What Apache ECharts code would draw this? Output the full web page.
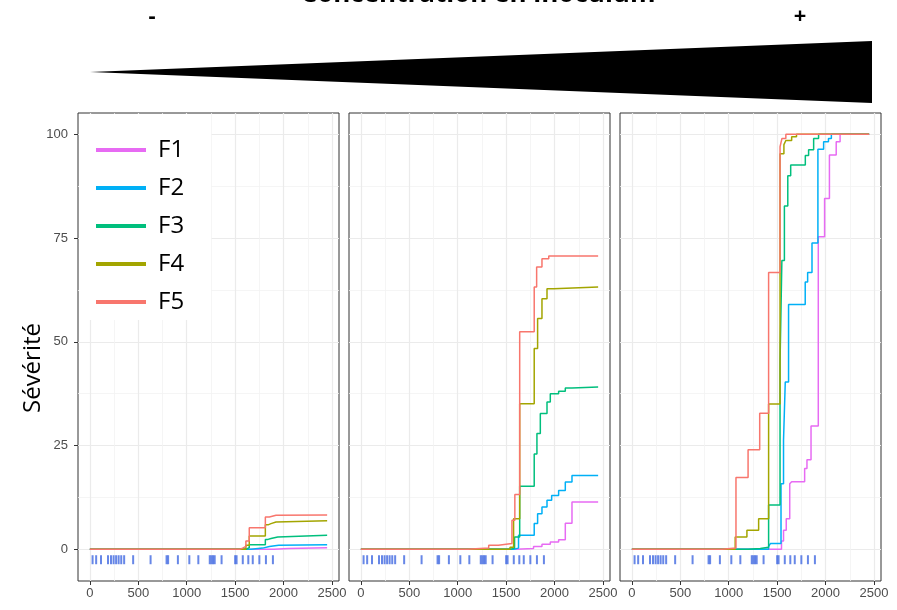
<!DOCTYPE html>
<html>
<head>
<meta charset="utf-8">
<script src="https://cdn.jsdelivr.net/npm/echarts@6/dist/echarts.min.js"></script>
<style>
  html, body { margin: 0; padding: 0; background: #fff; }
  #chart { width: 897px; height: 610px; }
</style>
</head>
<body>
<div id="chart"></div>
<script>
const factors = ['F1', 'F2', 'F3', 'F4', 'F5']
const factorColors = ['#E76BF3', '#00B0F6', '#00BF7D', '#A3A500', '#F8766D']
const xTicks = [0, 500, 1000, 1500, 2000, 2500]
const xMinorTicks = [250, 750, 1250, 1750, 2250]
const yTicks = [0, 25, 50, 75, 100]
const yMinorTicks = [12.5, 37.5, 62.5, 87.5]

// dates of the rug marks under the curves
const rugDates = [28, 65, 115, 187, 218, 245, 271, 297, 324, 354, 447, 627, 792, 808, 909,
  1027, 1120, 1238, 1255, 1272, 1289, 1360, 1500, 1515, 1579, 1636, 1682, 1750, 1818, 1890]
const rugLevel = -2.5

// [date, severity] : severity reached at that date (step lines)
// panel 1 : low level
const lowF1 = [[0, 0], [1900, 0.2], [2050, 0.4], [2450, 0.4]]
const lowF2 = [[0, 0], [1663, 0.3], [1784, 0.7], [1853, 1.0], [1950, 1.1], [2450, 1.1]]
const lowF3 = [[0, 0], [1611, 0.4], [1646, 1.1], [1812, 2.4], [1840, 2.6], [1870, 3.0], [1940, 3.4], [2450, 3.4]]
const lowF4 = [[0, 0], [1611, 1.0], [1646, 3.2], [1812, 5.9], [1840, 6.2], [1870, 6.6], [1922, 6.9], [2450, 6.9]]
const lowF5 = [[0, 0], [1545, 0.3], [1577, 0.7], [1611, 2.0], [1646, 5.2], [1812, 7.8], [1853, 8.2], [1922, 8.3], [2450, 8.3]]

// panel 2 : medium level
const midF1 = [[0, 0], [1600, 0.2], [1783, 0.7], [1870, 1.2], [1956, 1.8], [2042, 2.3], [2111, 6.3], [2180, 11.4], [2450, 11.4]]
const midF2 = [[0, 0], [1577, 0.3], [1628, 3.4], [1790, 6.2], [1825, 8.6], [1870, 10.2], [1922, 11.8], [1970, 13.0],
  [2042, 14.2], [2111, 16.2], [2180, 17.8], [2450, 17.8]]
const midF3 = [[0, 0], [1542, 0.3], [1587, 3.0], [1640, 15.2], [1790, 23.0], [1818, 27.9], [1853, 32.7], [1922, 35.5],
  [1956, 37.5], [2042, 38.1], [2111, 38.9], [2180, 39.1], [2450, 39.1]]
const midF4 = [[0, 0], [1540, 0.5], [1577, 7.4], [1640, 35.1], [1790, 48.4], [1825, 55.6], [1870, 60.4], [1922, 62.8],
  [1990, 63.2], [2450, 63.2]]
const midF5 = [[0, 0], [1100, 0.3], [1320, 1.0], [1420, 1.4], [1560, 7.0], [1590, 13.2], [1640, 52.4], [1790, 63.2],
  [1815, 68.0], [1870, 70.0], [1940, 70.7], [2450, 70.7]]

// panel 3 : high level
const highF1 = [[0, 0], [1545, 2.0], [1566, 4.6], [1594, 7.4], [1630, 15.8], [1650, 16.3], [1784, 19.5], [1808, 21.6],
  [1850, 29.7], [1925, 75.3], [1990, 84.5], [2040, 95.0], [2110, 98.2], [2150, 100], [2450, 100]]
const highF2 = [[0, 0], [1412, 0.7], [1430, 1.4], [1540, 15.8], [1566, 26.3], [1584, 40.3], [1618, 59.0], [1790, 64.4],
  [1815, 66.7], [1860, 73.8], [1921, 96.4], [1980, 98.2], [2030, 99.0], [2060, 100], [2450, 100]]
const highF3 = [[0, 0], [1200, 0.2], [1326, 0.5], [1412, 10.7], [1530, 45.0], [1549, 69.6], [1575, 82.7], [1610, 90.0],
  [1640, 92.6], [1791, 94.9], [1825, 96.3], [1877, 99.0], [1928, 100], [2450, 100]]
const highF4 = [[0, 0], [1067, 3.0], [1188, 4.6], [1309, 7.4], [1412, 35.0], [1530, 95.3], [1570, 97.5], [1590, 98.5],
  [1650, 99.4], [1700, 100], [2450, 100]]
const highF5 = [[0, 0], [930, 0.3], [1075, 17.3], [1200, 24.0], [1320, 32.8], [1412, 66.7], [1530, 97.0], [1550, 99.0],
  [1590, 100], [2450, 100]]

const panels = [
  [lowF1, lowF2, lowF3, lowF4, lowF5],
  [midF1, midF2, midF3, midF4, midF5],
  [highF1, highF2, highF3, highF4, highF5]
]

const chart = echarts.init(document.getElementById('chart'))

const panelLefts = [78, 349, 620]
const xRange = [-122.5, 2572.5]
const yRange = [-7.625, 105.125]
const labelStyle = { color: '#4D4D4D', fontSize: 13, fontFamily: 'Liberation Sans', formatter: v => String(v) }

const grids = []
const xAxes = []
const yAxes = []
const series = []

panelLefts.forEach((left, p) => {
  grids.push({
    left: left, top: 113, width: 261, height: 468,
    show: true, borderColor: '#333', borderWidth: 1, backgroundColor: '#fff'
  })
  // major axis
  xAxes.push({
    gridIndex: p, type: 'value', min: xRange[0], max: xRange[1], position: 'bottom',
    axisLine: { show: false, onZero: false },
    axisTick: { show: true, length: 4, lineStyle: { color: '#333' }, customValues: xTicks },
    axisLabel: { ...labelStyle, margin: 6, customValues: xTicks },
    splitLine: { show: true, lineStyle: { color: '#EBEBEB', width: 1.2 } }
  })
  // minor grid
  xAxes.push({
    gridIndex: p, type: 'value', min: xRange[0], max: xRange[1], position: 'top',
    axisLine: { show: false, onZero: false },
    axisTick: { show: false, customValues: xMinorTicks },
    axisLabel: { show: false },
    splitLine: { show: true, lineStyle: { color: '#F3F3F3', width: 0.8 } }
  })
  yAxes.push({
    gridIndex: p, type: 'value', min: yRange[0], max: yRange[1], position: 'left',
    axisLine: { show: false, onZero: false },
    axisTick: { show: p === 0, length: 4, lineStyle: { color: '#333' }, customValues: yTicks },
    axisLabel: { ...labelStyle, show: p === 0, margin: 10, customValues: yTicks },
    splitLine: { show: true, lineStyle: { color: '#EBEBEB', width: 1.2 } }
  })
  yAxes.push({
    gridIndex: p, type: 'value', min: yRange[0], max: yRange[1], position: 'right',
    axisLine: { show: false, onZero: false },
    axisTick: { show: false, customValues: yMinorTicks },
    axisLabel: { show: false },
    splitLine: { show: true, lineStyle: { color: '#F3F3F3', width: 0.8 } }
  })

  series.push({
    name: 'rug', type: 'scatter', xAxisIndex: 2 * p, yAxisIndex: 2 * p,
    data: rugDates.map(d => [d, rugLevel]),
    symbol: 'rect', symbolSize: [2, 9],
    itemStyle: { color: '#4169E1' },
    silent: true, z: 2
  })
  panels[p].forEach((points, f) => {
    series.push({
      name: factors[f], type: 'line', xAxisIndex: 2 * p, yAxisIndex: 2 * p,
      data: points, step: 'end', symbol: 'none',
      color: factorColors[f],
      lineStyle: { width: 1.5, color: factorColors[f] },
      z: 3 + f
    })
  })
})

const option = {
  animation: false,
  backgroundColor: '#fff',
  grid: grids,
  xAxis: xAxes,
  yAxis: yAxes,
  legend: {
    data: factors,
    orient: 'vertical',
    left: 79, top: 114,
    padding: [22, 27, 4, 17],
    backgroundColor: '#fff',
    icon: 'rect',
    itemWidth: 50, itemHeight: 4, itemGap: 10,
    textStyle: { fontSize: 24, fontFamily: 'Open Sans', color: '#000', lineHeight: 28, padding: [0, 0, 0, 7] }
  },
  graphic: [
    {
      // title of the slide, mostly cut off by the top edge
      type: 'text', x: 478, y: 8,
      style: { text: 'Concentration en inoculum', font: 'bold 26px "Open Sans"', fill: '#000', align: 'center', verticalAlign: 'bottom' }
    },
    {
      type: 'text', x: 152, y: 17,
      style: { text: '-', font: 'bold 22px "Open Sans"', fill: '#000', align: 'center', verticalAlign: 'middle' }
    },
    {
      type: 'text', x: 800, y: 17,
      style: { text: '+', font: 'bold 22px "Open Sans"', fill: '#000', align: 'center', verticalAlign: 'middle' }
    },
    {
      type: 'polygon',
      shape: { points: [[90, 72], [872, 41], [872, 103]] },
      style: { fill: '#000' }
    },
    {
      type: 'text', x: 33, y: 368, rotation: Math.PI / 2,
      style: { text: 'Sévérité', font: '24px "Open Sans"', fill: '#000', align: 'center', verticalAlign: 'middle' }
    }
  ],
  series: series
}

chart.setOption(option)
</script>
</body>
</html>
